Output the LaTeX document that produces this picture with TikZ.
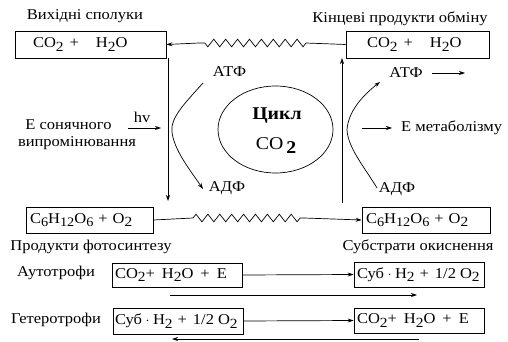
\documentclass[tikz,border=0pt]{standalone}
\usepackage{fontspec}
\setmainfont[FakeStretch=1.1]{Liberation Serif}
\usetikzlibrary{arrows.meta,decorations.pathmorphing,shapes.geometric}

% lowered index for chemical formulas
\newcommand\dn[1]{\raisebox{-3.5pt}{\fontsize{14}{14}\selectfont #1}}
\newcommand\dns[1]{\raisebox{-3pt}{\fontsize{13}{13}\selectfont #1}}
% substrate formula and oxidation products
\newcommand\subst{Суб\hspace{3.5pt}$\cdot$\hspace{3.5pt}H\dn{2}\hspace{5pt}+\hspace{6pt}1/2\hspace{4pt}O\dn{2}}
\newcommand\oxprod{CO\dn{2}+\hspace{7pt}H\dn{2}O\hspace{7pt}+\hspace{7pt}E}

\tikzset{
  box/.style={draw, line width=0.8pt, inner ysep=0pt, minimum height=26, align=left},
  lbl/.style={inner sep=0pt},
  conn/.style={line width=0.7pt},
  tip/.style={-{Stealth[length=6pt,width=4pt]}},
  spring/.style={decorate, decoration={zigzag, segment length=11.9, amplitude=3.8}},
}

\begin{document}
\begin{tikzpicture}[x=1pt, y=-1pt, font=\fontsize{15}{17}\selectfont]
\useasboundingbox (0,0) rectangle (508,342);

% upper row: initial compounds and end products
\node[lbl] (srcLbl) at (85,16) {Вихідні сполуки};
\node[box, minimum height=27, inner xsep=18, text width=115] (src) at (90.5,44.5)
  {CO\dn{2}\hspace{6pt}+\hspace{17pt}H\dn{2}O};
\node[lbl] (endLbl) at (400,19) {Кінцеві продукти обміну};
\node[box, minimum height=27, inner xsep=21, text width=101] (fin) at (417.5,44.5)
  {CO\dn{2}\hspace{6pt}+\hspace{17pt}H\dn{2}O};

% lower row: photosynthesis products / oxidation substrates
\node[box, inner xsep=4, text width=119] (glL) at (89.5,220)
  {C\dns{6}H\dns{12}O\dns{6} + O\dn{2}};
\node[box, inner xsep=4, text width=120] (glR) at (426,220)
  {C\dns{6}H\dns{12}O\dns{6} + O\dn{2}};
\node[lbl] (photLbl) at (91,247) {Продукти фотосинтезу};
\node[lbl] (oxLbl) at (418,247) {Субстрати окиснення};

% central cycle
\node[draw, line width=0.7pt, ellipse, minimum width=115, minimum height=87, inner sep=0pt] (cyc) at (275.5,129.5) {};
\node[lbl, font=\fontsize{18}{20}\selectfont\bfseries] (cycT) at (277,116) {Цикл};
\node[lbl, font=\fontsize{18}{20}\selectfont] (cycB) at (276,146) {CO\,\raisebox{-4pt}{\bfseries 2}};

% energy labels
\node[lbl] (atfL) at (229.5,72) {АТФ};
\node[lbl] (adfL) at (227,188) {АДФ};
\node[lbl] (atfR) at (406,73) {АТФ};
\node[lbl] (adfR) at (397,189) {АДФ};
\node[lbl] (sunA) at (68.5,125) {Е сонячного};
\node[lbl] (sunB) at (77,143) {випромінювання};
\node[lbl] (hv) at (142,117) {hv};
\node[lbl, anchor=west] (met) at (401,128) {Е метаболізму};

% connector waypoints
\coordinate (zt1) at (306,43);
\coordinate (zt2) at (199,43);
\coordinate (zb1) at (193,218);
\coordinate (zb2) at (304,218);
\coordinate (vl1) at (168,58);
\coordinate (vl2) at (168,201);
\coordinate (vr1) at (342,203);
\coordinate (vr2) at (342,58);
\coordinate (hv1) at (128,128);
\coordinate (hv2) at (161,128);
\coordinate (me1) at (362,128);
\coordinate (me2) at (392,128);
\coordinate (at1) at (432,73);
\coordinate (at2) at (465,73);
\coordinate (cl1) at (203,83);
\coordinate (cl2) at (203,189);
\coordinate (cr1) at (377,188);
\coordinate (cr2) at (380,82);

% top: end products back to initial compounds
\draw[conn] (fin.west) -- (zt1);
\draw[conn, spring] (zt1) -- (zt2);
\draw[conn, tip] (zt2) -- (src.east);

% bottom: photosynthesis products to oxidation substrates
\draw[conn] (glL.east) -- (zb1);
\draw[conn, spring] (zb1) -- (zb2);
\draw[conn, tip] (zb2) -- (glR.west);

% vertical flows
\draw[conn, tip] (vl1) -- (vl2);
\draw[conn, tip] (vr1) -- (vr2);

% light energy and metabolic energy
\draw[conn, tip] (hv1) -- (hv2);
\draw[conn, tip] (me1) -- (me2);
\draw[conn, tip] (at1) -- (at2);

% ATP / ADP arcs
\draw[conn, tip] (cl1) .. controls (185,103) and (170,118) .. (172,132)
                        .. controls (174,150) and (190,170) .. (cl2);
\draw[conn, tip] (cr1) .. controls (365,168) and (348,148) .. (347,130)
                        .. controls (348,112) and (362,96) .. (cr2);

% autotrophs and heterotrophs
\node[lbl] (autoL) at (56,273) {Аутотрофи};
\node[box, minimum height=24, inner xsep=3, text width=124] (a1) at (177,275) {\oxprod};
\node[box, minimum height=25, inner xsep=3, text width=124] (a2) at (419,274.5) {\subst};
\node[lbl] (hetL) at (56,320) {Гетеротрофи};
\node[box, inner xsep=2, text width=126] (h1) at (178,321) {\subst};
\node[box, minimum height=25, inner xsep=3, text width=124] (h2) at (419,320.5) {\oxprod};

\coordinate (ra1) at (170,295);
\coordinate (ra2) at (417,295);
\coordinate (rh1) at (419,339);
\coordinate (rh2) at (172,339);

\draw[conn, tip] (a1.east) -- (a2.west);
\draw[conn, tip] (ra1) -- (ra2);
\draw[conn, tip] (h1.east) -- (h2.west);
\draw[conn, tip] (rh1) -- (rh2);
\end{tikzpicture}
\end{document}
